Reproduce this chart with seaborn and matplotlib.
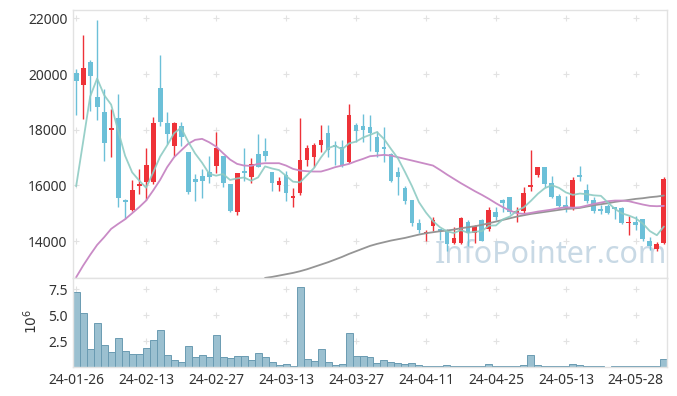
import numpy as np
import pandas as pd
import matplotlib
matplotlib.use('Agg')
import matplotlib.pyplot as plt
import seaborn as sns

# daily candles
opens = [20030, 19599, 20425, 19192, 18653, 17995, 18438, 15493, 15134, 15984,
         16116, 16116, 19503, 18246, 17408, 18150, 17217, 16235, 16355, 16499,
         16690, 17073, 16056, 15062, 16534, 16295, 17133, 17253, 16499, 16020,
         16391, 15553, 15720, 16917, 17013, 17444, 17887, 17468, 17372, 16834,
         18186, 18150, 18114, 17755, 17372, 17133, 16499, 15900, 15493, 14667,
         14260, 14559, 14440, 14380, 13937, 13937, 14703, 14284, 14763, 14428,
         15062, 15481, 15601, 15026, 15098, 15948, 16391, 16654, 16092, 15637,
         15314, 15182, 16379, 15852, 15493, 15170, 15278, 15230, 15194, 14655,
         14679, 14811, 13997, 13710, 13937]
highs = [20185, 21418, 20520, 21945, 19467, 18749, 19288, 15530, 16199, 16594,
         17348, 18474, 20688, 18629, 18270, 18294, 17217, 16415, 16594, 17073,
         17935, 17073, 16056, 16460, 17348, 16989, 17851, 17708, 16499, 16295,
         16534, 15912, 18426, 17468, 17516, 18186, 18174, 17612, 17636, 18928,
         18246, 18569, 18533, 17947, 18090, 17157, 16654, 15996, 15493, 14811,
         14404, 14858, 14440, 14440, 14524, 14858, 14763, 14584, 14799, 15218,
         15218, 15500, 15601, 15218, 15936, 17288, 16678, 16654, 16331, 15697,
         15637, 16295, 16714, 16056, 15577, 15290, 15337, 15242, 15218, 14918,
         14918, 14811, 14140, 13961, 16295]
lows = [18533, 18390, 18689, 18354, 16893, 17037, 15218, 14799, 15098, 15696,
        15481, 16050, 18150, 17492, 17073, 17432, 15697, 15457, 15553, 16092,
        16451, 15960, 15038, 14942, 16175, 16080, 16660, 16870, 15816, 15816,
        15457, 15241, 15672, 16690, 16654, 17193, 17013, 16750, 16654, 16798,
        17552, 17552, 17253, 17013, 16834, 16116, 15660, 15337, 14559, 14284,
        14021, 14356, 14045, 13638, 13901, 13901, 13841, 13937, 14021, 14380,
        14763, 15038, 14978, 14703, 14978, 15816, 16319, 15948, 15553, 15218,
        15038, 15122, 16151, 15361, 15002, 14978, 14978, 14799, 14619, 14236,
        14404, 14021, 13686, 13662, 13901]
closes = [19766, 20209, 19922, 18809, 17516, 18055, 15541, 15397, 15852, 16044,
          16750, 18258, 18270, 17851, 18246, 17731, 15780, 16139, 16175, 16295,
          17360, 16080, 15074, 16451, 16462, 16774, 16678, 17049, 16080, 16175,
          15732, 15637, 16929, 17360, 17468, 17647, 17277, 17396, 16690, 18533,
          17971, 18007, 17875, 17193, 17300, 16175, 16295, 15457, 14643, 14416,
          14320, 14763, 14356, 13901, 14128, 14835, 14284, 14536, 14021, 15122,
          14858, 15385, 15038, 15062, 15744, 16008, 16654, 16056, 15577, 15278,
          15182, 16211, 16295, 15457, 15074, 15098, 15002, 15170, 14643, 14679,
          14583, 14069, 13829, 13901, 16235]
# volume in millions of shares
volumes = [7.21, 5.17, 1.78, 4.30, 2.17, 1.49, 2.85, 1.59, 1.30, 1.30,
           1.88, 2.65, 3.62, 1.20, 0.72, 0.52, 2.07, 1.01, 1.20, 1.01,
           3.14, 1.01, 0.91, 1.10, 1.10, 0.72, 1.40, 1.01, 0.52, 0.23,
           0.33, 0.14, 7.75, 0.81, 0.62, 1.78, 0.52, 0.23, 0.33, 3.33,
           1.10, 1.10, 1.01, 0.43, 0.72, 0.52, 0.43, 0.33, 0.43, 0.23,
           0.14, 0.14, 0.14, 0.23, 0.14, 0.14, 0.14, 0.06, 0.06, 0.33,
           0.06, 0.14, 0.06, 0.06, 0.23, 1.20, 0.23, 0.14, 0.14, 0.06,
           0.06, 0.33, 0.23, 0.14, 0.06, 0.06, 0.00, 0.06, 0.06, 0.06,
           0.06, 0.06, 0.06, 0.06, 0.81]
# first MA5 points (need history before the window)
ma5_head = [15970, 17570, 19190, 19840]
ma20 = [12704, 13123, 13506, 13865, 14140, 14440, 14619, 14787, 15002, 15218,
        15457, 15816, 16199, 16654, 17013, 17253, 17492, 17636, 17672, 17552,
        17396, 17157, 16929, 16774, 16714, 16702, 16774, 16798, 16798, 16798,
        16714, 16594, 16534, 16510, 16499, 16499, 16570, 16654, 16714, 16774,
        16870, 16953, 17049, 17073, 17097, 17073, 17013, 16953, 16894, 16834,
        16774, 16714, 16558, 16391, 16235, 16080, 15936, 15792, 15660, 15517,
        15361, 15218, 15098, 15002, 14978, 15014, 15062, 15098, 15134, 15182,
        15218, 15200, 15218, 15278, 15337, 15385, 15433, 15457, 15457, 15433,
        15373, 15314, 15266, 15254, 15266]
ma60 = [np.nan] * 27 + [
        12680, 12716, 12764, 12812, 12860, 12920, 12991, 13075, 13159, 13243,
        13338, 13434, 13542, 13638, 13734, 13829, 13901, 13961, 14021, 14069,
        14116, 14176, 14236, 14284, 14320, 14356, 14380, 14416, 14464, 14500,
        14536, 14584, 14643, 14703, 14763, 14822, 14882, 14930, 14978, 15014,
        15050, 15086, 15122, 15158, 15170, 15194, 15242, 15290, 15326, 15361,
        15409, 15445, 15481, 15517, 15541, 15577, 15601, 15637]
tick_labels = ['24-01-26', '24-02-13', '24-02-27', '24-03-13', '24-03-27',
               '24-04-11', '24-04-25', '24-05-13', '24-05-28']

sns.set_theme(style='white')
plt.rcParams['font.family'] = ['Noto Sans', 'DejaVu Sans']

df = pd.DataFrame({'open': opens, 'high': highs, 'low': lows, 'close': closes,
                   'vol': volumes, 'ma20': ma20, 'ma60': ma60})
df['idx'] = np.arange(len(df))
ma5 = df['close'].rolling(5).mean()
ma5.iloc[:4] = ma5_head
df['ma5'] = ma5

RED = '#ee3238'
BLUE = '#6cc0d8'
GRID = '#e2e2e2'
TXT = '#333333'

fig = plt.figure(figsize=(6.77, 3.96), dpi=100)
W, H = 677, 396
ax = fig.add_axes([73 / W, 1 - 278 / H, 594 / W, 268 / H])
axv = fig.add_axes([73 / W, 1 - 367 / H, 594 / W, 89 / H])

xlim = (-0.45, 84.45)
xticks = list(range(0, 81, 10))
yticks = [14000, 16000, 18000, 20000, 22000]
vticks = [2.5, 5.0, 7.5]

# grid crosses
for t in xticks:
    ax.plot([t] * len(yticks), yticks, '+', ms=4.5, mew=0.8, color=GRID, zorder=0)
    axv.plot([t] * len(vticks), vticks, '+', ms=4.5, mew=0.8, color=GRID, zorder=0)

ax.text(0.805, 0.085, 'InfoPointer.com', transform=ax.transAxes, fontsize=22,
        color='#c8d9e5', ha='center', va='center', zorder=0.5)

# candles
up = df['close'] >= df['open']
colors = np.where(up, RED, BLUE)
body_lo = df[['open', 'close']].min(axis=1)
body_h = (df['close'] - df['open']).abs().clip(lower=40)
ax.vlines(df['idx'], df['low'], df['high'], colors=colors, lw=1.0, zorder=2)
ax.bar(df['idx'], body_h, bottom=body_lo, width=0.7, color=colors,
       linewidth=0, edgecolor='none', zorder=3)

# moving averages
sns.lineplot(data=df, x='idx', y='ma60', ax=ax, color='#959595', lw=1.3, zorder=4)
sns.lineplot(data=df, x='idx', y='ma20', ax=ax, color='#c98bc6', lw=1.3, zorder=4)
sns.lineplot(data=df, x='idx', y='ma5', ax=ax, color='#8ecbc3', lw=1.3, alpha=0.9, zorder=4)

ax.set_xlim(*xlim)
ax.set_ylim(12677, 22298)
ax.set_xticks(xticks)
ax.set_xticklabels([])
ax.set_yticks(yticks)
ax.set_yticklabels([str(v) for v in yticks])
ax.set_xlabel('')
ax.set_ylabel('')

# volume
sns.barplot(data=df, x='idx', y='vol', ax=axv, native_scale=True, width=1.0,
            color='#9bc0d0', saturation=1, edgecolor='#6a9bb2', linewidth=0.7,
            zorder=2)
axv.set_xlim(*xlim)
axv.set_ylim(0, 8.6)
axv.set_xticks(xticks)
axv.set_xticklabels(tick_labels)
axv.set_yticks(vticks)
axv.set_yticklabels(['2.5', '5.0', '7.5'])
axv.set_xlabel('')
axv.set_ylabel('')
fig.text(32 / W, 1 - 321 / H, r'$10^6$', rotation=90, ha='center', va='center',
         fontsize=10, color=TXT)

for a in (ax, axv):
    a.tick_params(length=0, labelsize=10, colors=TXT, pad=4)
    for s in a.spines.values():
        s.set_color('#e2e2e2')
        s.set_linewidth(1)
    a.grid(False)

fig.savefig('out.png', dpi=100)
